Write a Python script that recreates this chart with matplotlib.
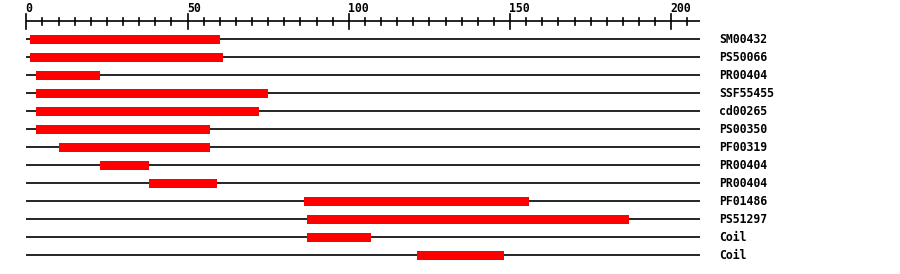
import numpy as np
import matplotlib
matplotlib.use('Agg')
import matplotlib.pyplot as plt

# domain hits: label, start, end (residue positions)
labels = ['SM00432', 'PS50066', 'PR00404', 'SSF55455', 'cd00265', 'PS00350',
          'PF00319', 'PR00404', 'PR00404', 'PF01486', 'PS51297', 'Coil', 'Coil']
starts = [1, 1, 3, 3, 3, 3, 10, 23, 38, 86, 87, 87, 121]
ends = [60, 61, 23, 75, 72, 57, 57, 38, 59, 156, 187, 107, 148]
seq_len = 209
major_ticks = [0, 50, 100, 150, 200]
minor_step = 5

W, H = 900, 274
fig = plt.figure(figsize=(W / 100, H / 100), dpi=100)
ax = fig.add_axes([0, 0, 1, 1])
ax.set_axis_off()

# 0 -> px 26.3, 3.225 px per residue ; row i -> px 39.3 + 18*i
ax.set_xlim(-26.3 / 3.225, (W - 26.3) / 3.225)
ax.set_ylim((H - 39.3) / 18, -39.3 / 18)

font = dict(family='DejaVu Sans Mono', fontweight='bold', fontsize=8.3)

# ruler
ax.plot([0, seq_len], [-1, -1], color='black', lw=1.2, solid_capstyle='butt')
for t in range(0, seq_len + 1, minor_step):
    if t in major_ticks:
        ax.plot([t, t], [-1.42, -0.57], color='black', lw=1.2)
        ax.text(t - 0.2, -1.50, str(t), ha='left', va='baseline', **font)
    else:
        ax.plot([t, t], [-1.18, -0.80], color='black', lw=1.2)

# rows
for i, (lab, s, e) in enumerate(zip(labels, starts, ends)):
    ax.plot([0, seq_len], [i, i], color='black', lw=1.2, solid_capstyle='butt', zorder=1)
    ax.barh(i, e - s, left=s, height=0.5, color='#ff0000', zorder=2)
    ax.text(214.8, i + 0.19, lab, ha='left', va='baseline', **font)

fig.savefig('out.png', dpi=100)
